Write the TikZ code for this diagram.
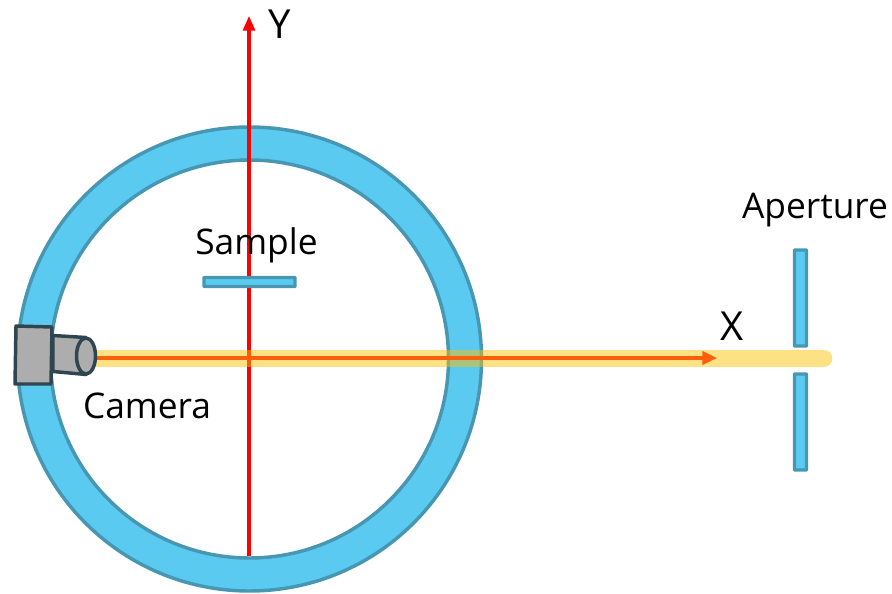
\documentclass[tikz,border=0pt]{standalone}
\usepackage{fontspec}
\setmainfont{Open Sans}
\usepackage{tikz}
\usetikzlibrary{
    arrows.meta
}
\definecolor{ringfill}{HTML}{5BCAF0}
\definecolor{ringedge}{HTML}{4797B3}
\definecolor{camfill}{HTML}{ADADAD}
\definecolor{camedge}{HTML}{2F4550}
\definecolor{beam}{HTML}{FFC000}
\definecolor{axisx}{HTML}{FF5F0A}
\tikzset{
    part/.style={draw=ringedge,fill=ringfill,line width=2.6pt,rounded corners=0.5pt},
    cam/.style={draw=camedge,fill=camfill,line width=2.6pt,line join=round},
    lbl/.style={font=\fontsize{26.5}{30}\selectfont,inner sep=0pt},
    axlbl/.style={font=\fontsize{30}{34}\selectfont,inner sep=0pt}
}

\begin{document}
\begin{tikzpicture}[x=0.75pt,y=-0.75pt]
\useasboundingbox (0,0) rectangle (892,593);

% Ring
\fill[ringfill,even odd rule] (249.5,359) circle (232) circle (199);
\draw[ringedge,line width=2.6pt] (249.5,359) circle (232);
\draw[ringedge,line width=2.6pt] (249.5,359) circle (199);

% Y axis
\coordinate (yfoot) at (249,556);
\coordinate (ytip) at (249,16);
\draw[red,line width=2.3pt,-{Triangle[length=11pt,width=9pt]}] (yfoot) -- (ytip);

% Sample
\draw[part] (204,277.5) rectangle (295,286.5);

% Beam
\coordinate (beamstart) at (92,358.5);
\coordinate (beamend) at (824,358.5);
\draw[beam,opacity=0.48,line width=12.6pt,line cap=round] (beamstart) -- (beamend);

% X axis
\coordinate (xfoot) at (92,358);
\coordinate (xtip) at (717,358);
\draw[axisx,line width=2.3pt,-{Triangle[length=11pt,width=10pt]}] (xfoot) -- (xtip);

% Aperture blades
\draw[part] (794.5,250) rectangle (806.5,346);
\draw[part] (794.5,374) rectangle (806.5,470);

% Camera
\draw[cam] (53,335.5) -- (86,337.5) -- (86,374.5) -- (53,371.5) -- cycle;
\draw[cam] (86,356) ellipse (9.5 and 18);
\draw[cam] (16,326) -- (52,327) -- (51,384) -- (15,384) -- cycle;

% Labels
\node[axlbl] (ylabel) at (280,24) {Y};
\node[axlbl] (xlabel) at (732,326) {X};
\node[lbl] (samplelabel) at (256.5,245) {Sample};
\node[lbl] (cameralabel) at (147,406) {Camera};
\node[lbl] (aperturelabel) at (815,210) {Aperture};

\end{tikzpicture}
\end{document}
